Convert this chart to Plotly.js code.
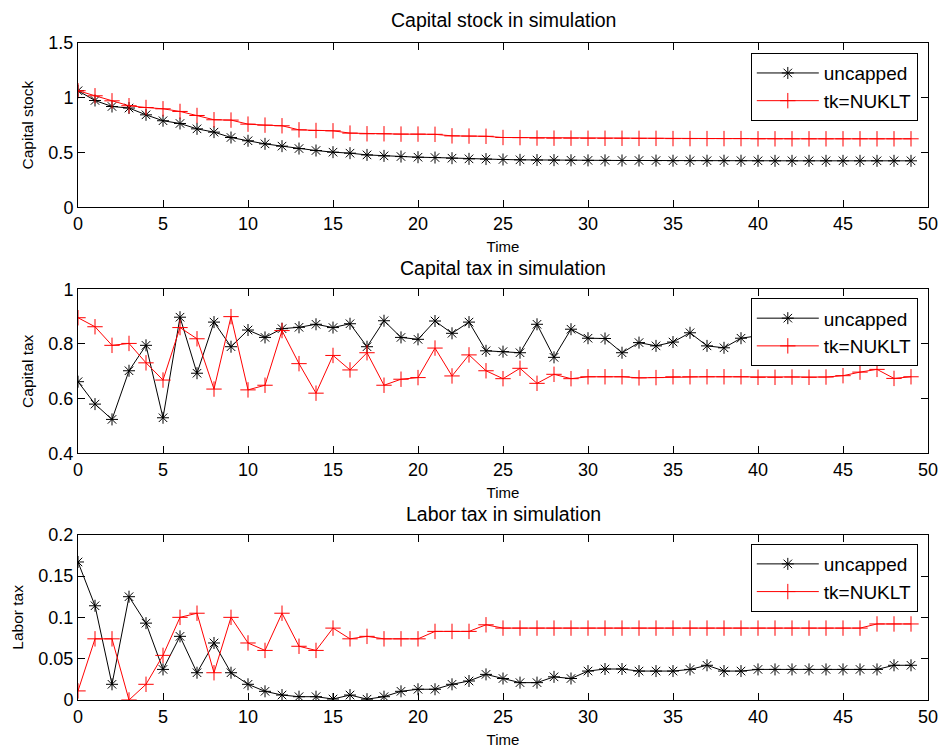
<!DOCTYPE html>
<html>
<head>
<meta charset="utf-8">
<script src="https://cdn.plot.ly/plotly-3.0.1.min.js"></script>
<style>html,body{margin:0;padding:0;background:#fff;}#chart{width:943px;height:748px;}</style>
</head>
<body>
<div id="chart"></div>
<script>
const timeSteps = [0,1,2,3,4,5,6,7,8,9,10,11,12,13,14,15,16,17,18,19,20,21,22,23,24,25,26,27,28,29,30,31,32,33,34,35,36,37,38,39,40,41,42,43,44,45,46,47,48,49];

const capitalUncapped = [1.064,0.975,0.920,0.906,0.844,0.790,0.765,0.716,0.686,0.637,0.607,0.579,0.558,0.536,0.518,0.503,0.494,0.478,0.469,0.463,0.457,0.454,0.448,0.442,0.440,0.436,0.433,0.431,0.430,0.429,0.428,0.428,0.427,0.427,0.426,0.425,0.425,0.425,0.425,0.425,0.424,0.424,0.424,0.424,0.424,0.424,0.424,0.424,0.424,0.424];
const capitalNUKLT = [1.064,1.018,0.972,0.927,0.911,0.899,0.875,0.838,0.799,0.796,0.759,0.750,0.744,0.707,0.701,0.698,0.677,0.671,0.671,0.668,0.668,0.666,0.652,0.650,0.648,0.637,0.636,0.632,0.631,0.631,0.630,0.630,0.630,0.629,0.629,0.627,0.627,0.627,0.627,0.627,0.625,0.625,0.625,0.625,0.625,0.625,0.625,0.625,0.625,0.625];

const capTaxUncapped = [0.662,0.580,0.524,0.702,0.795,0.530,0.898,0.693,0.880,0.790,0.851,0.824,0.856,0.861,0.872,0.860,0.874,0.790,0.885,0.824,0.817,0.884,0.839,0.880,0.775,0.772,0.768,0.872,0.751,0.854,0.821,0.820,0.768,0.805,0.793,0.807,0.841,0.793,0.786,0.821,0.83,0.81,0.84,0.80,0.82,0.85,0.81,0.83,0.80,0.82];
const capTaxNUKLT = [0.896,0.863,0.795,0.802,0.731,0.668,0.860,0.819,0.635,0.900,0.632,0.649,0.849,0.728,0.620,0.758,0.705,0.768,0.649,0.671,0.677,0.785,0.683,0.760,0.702,0.673,0.711,0.656,0.689,0.673,0.680,0.680,0.680,0.676,0.677,0.680,0.680,0.680,0.680,0.680,0.678,0.678,0.679,0.678,0.679,0.684,0.697,0.707,0.674,0.680];

const laborUncapped = [0.167,0.114,0.019,0.125,0.093,0.037,0.077,0.033,0.069,0.033,0.019,0.0105,0.006,0.004,0.004,0.0012,0.006,0.001,0.004,0.0105,0.013,0.013,0.019,0.023,0.031,0.026,0.021,0.021,0.028,0.026,0.035,0.0375,0.0375,0.035,0.035,0.035,0.037,0.042,0.035,0.035,0.037,0.037,0.037,0.037,0.037,0.037,0.037,0.037,0.042,0.042];
const laborNUKLT = [0.011,0.074,0.074,0.000,0.019,0.054,0.100,0.105,0.033,0.100,0.069,0.060,0.105,0.065,0.060,0.087,0.074,0.077,0.074,0.074,0.074,0.083,0.083,0.083,0.091,0.087,0.087,0.087,0.087,0.087,0.087,0.087,0.087,0.087,0.087,0.087,0.087,0.087,0.087,0.087,0.087,0.087,0.087,0.087,0.087,0.087,0.087,0.092,0.092,0.092];

const seriesNames = ["uncapped", "tk=NUKLT"];
const panelTitles = ["Capital stock in simulation", "Capital tax in simulation", "Labor tax in simulation"];
const yTitles = ["Capital stock", "Capital tax", "Labor tax"];
const xTitle = "Time";

const FONT = "Liberation Sans, Arial, Helvetica, sans-serif";

function blackTrace(y, xa, ya, leg) {
  return {x: timeSteps, y: y, xaxis: xa, yaxis: ya, legend: leg, name: seriesNames[0],
    type: "scatter", mode: "lines+markers",
    line: {color: "#000000", width: 1},
    marker: {symbol: "asterisk-open", size: 10, color: "#000000", line: {color: "#000000", width: 1}}};
}
function redTrace(y, xa, ya, leg) {
  return {x: timeSteps, y: y, xaxis: xa, yaxis: ya, legend: leg, name: seriesNames[1],
    type: "scatter", mode: "lines+markers",
    line: {color: "#ff0000", width: 1},
    marker: {symbol: "cross-thin-open", size: 11, color: "#ff0000", line: {color: "#ff0000", width: 1}}};
}

const data = [
  blackTrace(capitalUncapped, "x", "y", "legend"),
  redTrace(capitalNUKLT, "x", "y", "legend"),
  blackTrace(capTaxUncapped, "x2", "y2", "legend2"),
  redTrace(capTaxNUKLT, "x2", "y2", "legend2"),
  blackTrace(laborUncapped, "x3", "y3", "legend3"),
  redTrace(laborNUKLT, "x3", "y3", "legend3")
];

function xAx(anchor) {
  return {anchor: anchor, domain: [0, 1], range: [0, 50], dtick: 5, tick0: 0,
    ticks: "inside", ticklen: 7, tickcolor: "#000", mirror: "ticks", showline: true,
    linecolor: "#000", linewidth: 1, showgrid: false, zeroline: false,
    tickfont: {family: FONT, size: 18, color: "#000"},
    title: {text: xTitle, font: {family: FONT, size: 15, color: "#000"}, standoff: 8}};
}
function yAx(anchor, domain, range, dtick, title) {
  return {anchor: anchor, domain: domain, range: range, dtick: dtick, tick0: 0,
    ticks: "inside", ticklen: 7, tickcolor: "#000", mirror: "ticks", showline: true,
    linecolor: "#000", linewidth: 1, showgrid: false, zeroline: false,
    tickfont: {family: FONT, size: 18, color: "#000"},
    title: {text: title, font: {family: FONT, size: 15.5, color: "#000"}, standoff: 10}};
}
function leg(y) {
  return {x: 0.988, xanchor: "right", y: y, yanchor: "top", bgcolor: "#fff",
    bordercolor: "#000", borderwidth: 1, font: {family: FONT, size: 19, color: "#000"},
    itemwidth: 62, tracegroupgap: 0};
}

const layout = {
  width: 943, height: 748,
  margin: {l: 78, r: 15, t: 43, b: 48},
  paper_bgcolor: "#fff", plot_bgcolor: "#fff",
  font: {family: FONT, color: "#000"},
  showlegend: true,
  xaxis: xAx("y"), xaxis2: xAx("y2"), xaxis3: xAx("y3"),
  yaxis: yAx("x", [0.750, 1], [0, 1.5], 0.5, yTitles[0]),
  yaxis2: yAx("x2", [0.3755, 0.6251], [0.4, 1], 0.2, yTitles[1]),
  yaxis3: yAx("x3", [0, 0.2516], [0, 0.2], 0.05, yTitles[2]),
  legend: leg(0.9846), legend2: leg(0.6114), legend3: leg(0.2374),
  annotations: [
    {text: panelTitles[0], xref: "paper", yref: "paper", x: 0.5, y: 1.035, xanchor: "center", yanchor: "middle", showarrow: false, font: {family: FONT, size: 19.5, color: "#000"}},
    {text: panelTitles[1], xref: "paper", yref: "paper", x: 0.5, y: 0.6575, xanchor: "center", yanchor: "middle", showarrow: false, font: {family: FONT, size: 19.5, color: "#000"}},
    {text: panelTitles[2], xref: "paper", yref: "paper", x: 0.5, y: 0.2831, xanchor: "center", yanchor: "middle", showarrow: false, font: {family: FONT, size: 19.5, color: "#000"}}
  ]
};

Plotly.newPlot("chart", data, layout, {displayModeBar: false, staticPlot: true});
</script>
</body>
</html>
